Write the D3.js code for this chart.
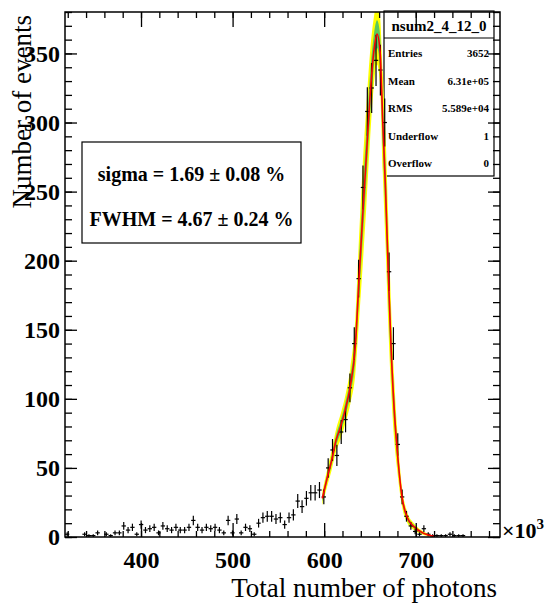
<!DOCTYPE html>
<html>
<head>
<meta charset="utf-8">
<script src="https://cdn.jsdelivr.net/npm/d3@7"></script>
<style>
  html, body { margin: 0; padding: 0; background: #fff; }
  svg { display: block; }
</style>
</head>
<body>
<svg id="chart" width="550" height="604"></svg>
<script>
// histogram: 100 bins over the x range (units of 10^3 photons)
const xRange = [317, 792];
const yRange = [0, 380];
const counts = [
  2, 0, 0, 0, 2, 1, 1, 3, 0, 2,
  1, 3, 3, 8, 5, 7, 2, 9, 5, 6,
  7, 3, 8, 6, 5, 7, 5, 5, 7, 12,
  7, 5, 7, 6, 7, 5, 3, 12, 3, 13,
  3, 7, 6, 2, 10, 14, 15, 15, 13, 14,
  9, 14, 16, 26, 22, 28, 32, 32, 34, 29,
  50, 63, 59, 76, 85, 108, 140, 187, 253, 308,
  325, 345, 338, 300, 192, 140, 67, 29, 15, 8,
  4, 2, 6, 2, 1, 1, 1, 1, 2, 1,
  1, 1, 0, 0, 0, 0, 0, 0, 0, 0
];

// fit curve and its confidence bands (half widths, in counts)
const fitX = [598, 603, 608, 613, 618, 623, 628.5, 634, 638, 642, 646, 650, 654, 657.7, 661, 664, 667, 670, 673, 676.5, 679.5, 685, 690.5, 698, 708.5, 721];
const fitY = [28, 42, 55, 70, 80, 92, 109, 138, 186, 232, 275, 318, 350, 364, 352, 300, 252, 192, 138, 92, 65, 29, 14.5, 7.5, 2.7, 0.3];
const bandYellow = [5, 6, 7, 8, 9, 10, 13, 20, 30, 36, 36, 32, 25, 22, 25, 36, 40, 38, 30, 22, 15, 7, 4, 2.5, 1.2, 0.4];
const bandGreen = [2.5, 3, 3.5, 4, 4.5, 5, 6.5, 10, 15, 18, 18, 16, 12, 10, 12, 18, 20, 19, 15, 11, 7.5, 3.5, 2, 1.2, 0.6, 0.2];

const xMajorTicks = [400, 500, 600, 700];
const xMinorTicks = d3.range(320, 792, 20);
const yMajorTicks = [0, 50, 100, 150, 200, 250, 300, 350];
const yMinorTicks = d3.range(0, 381, 10);

const statsTitle = "nsum2_4_12_0";
const statsRows = [["Entries", "3652"], ["Mean", "6.31e+05"], ["RMS", "5.589e+04"], ["Underflow", "1"], ["Overflow", "0"]];
const fitLines = ["sigma = 1.69 \u00b1 0.08 %", "FWHM = 4.67 \u00b1 0.24 %"];

const frame = { left: 65, right: 500, top: 12, bottom: 537 };
const serif = "'Liberation Serif', 'Times New Roman', serif";

const svg = d3.select("#chart");

const x = d3.scaleLinear().domain(xRange).range([frame.left, frame.right]);
const y = d3.scaleLinear().domain(yRange).range([frame.bottom, frame.top]);
const binW = (xRange[1] - xRange[0]) / counts.length;

svg.append("defs").append("clipPath").attr("id", "frameClip")
  .append("rect")
  .attr("x", frame.left).attr("y", frame.top)
  .attr("width", frame.right - frame.left).attr("height", frame.bottom - frame.top);

// stats box (drawn first, data and axes go over it)
const stats = svg.append("g");
stats.append("rect")
  .attr("x", 384).attr("y", 11).attr("width", 110).attr("height", 165)
  .attr("fill", "#fff").attr("stroke", "#000").attr("stroke-width", 1.2);
stats.append("line")
  .attr("x1", 384).attr("x2", 494).attr("y1", 38).attr("y2", 38)
  .attr("stroke", "#000").attr("stroke-width", 1.2);
stats.append("text")
  .attr("x", 439).attr("y", 31).attr("text-anchor", "middle")
  .attr("font-family", serif).attr("font-weight", "bold").attr("font-size", 15)
  .text(statsTitle);
statsRows.forEach((r, i) => {
  const by = 57 + i * 27.5;
  stats.append("text").attr("x", 388).attr("y", by)
    .attr("font-family", serif).attr("font-weight", "bold").attr("font-size", 11)
    .text(r[0]);
  stats.append("text").attr("x", 489).attr("y", by).attr("text-anchor", "end")
    .attr("font-family", serif).attr("font-weight", "bold").attr("font-size", 11)
    .text(r[1]);
});

// fit bands + fit line
const plot = svg.append("g").attr("clip-path", "url(#frameClip)");
const fitPts = fitX.map((v, i) => ({ x: v, y: fitY[i], yl: bandYellow[i], gr: bandGreen[i] }));

const bandArea = (key) => d3.area()
  .x(d => x(d.x))
  .y0(d => y(Math.max(0, d.y - d[key])))
  .y1(d => y(d.y + d[key]))
  .curve(d3.curveMonotoneX);

plot.append("path").datum(fitPts).attr("d", bandArea("yl")).attr("fill", "#ffff00");
plot.append("path").datum(fitPts).attr("d", bandArea("gr")).attr("fill", "#5cc85c");

// data points with error bars
const bins = counts.map((c, i) => ({ lo: xRange[0] + i * binW, hi: xRange[0] + (i + 1) * binW, c: c }))
  .filter(d => d.c > 0);
const pts = plot.append("g").attr("stroke", "#000").attr("stroke-width", 1.2);
pts.selectAll("line.h").data(bins).join("line").attr("class", "h")
  .attr("x1", d => x(d.lo)).attr("x2", d => x(d.hi))
  .attr("y1", d => y(d.c)).attr("y2", d => y(d.c));
pts.selectAll("line.v").data(bins).join("line").attr("class", "v")
  .attr("x1", d => x((d.lo + d.hi) / 2)).attr("x2", d => x((d.lo + d.hi) / 2))
  .attr("y1", d => y(Math.max(0, d.c - Math.sqrt(d.c)))).attr("y2", d => y(d.c + Math.sqrt(d.c)));

plot.append("path").datum(fitPts)
  .attr("d", d3.line().x(d => x(d.x)).y(d => y(d.y)).curve(d3.curveMonotoneX))
  .attr("fill", "none").attr("stroke", "#ff0000").attr("stroke-width", 1.6);

// axes, ROOT style: ticks pointing inward on all four sides
function styleAxis(g) {
  g.select(".domain").remove();
  g.selectAll(".tick line").attr("stroke", "#000").attr("stroke-width", 1.3);
}

svg.append("g").attr("transform", `translate(0,${frame.bottom})`)
  .call(d3.axisBottom(x).tickValues(xMinorTicks).tickSizeInner(-6).tickSizeOuter(0).tickFormat(""))
  .call(styleAxis);
svg.append("g").attr("transform", `translate(0,${frame.bottom})`)
  .call(d3.axisBottom(x).tickValues(xMajorTicks).tickSizeInner(-14).tickSizeOuter(0).tickPadding(14))
  .call(styleAxis)
  .call(g => g.selectAll("text").attr("font-family", serif).attr("font-weight", "bold")
    .attr("font-size", 24).attr("fill", "#000"));

svg.append("g").attr("transform", `translate(0,${frame.top})`)
  .call(d3.axisTop(x).tickValues(xMinorTicks).tickSizeInner(-6).tickSizeOuter(0).tickFormat(""))
  .call(styleAxis);
svg.append("g").attr("transform", `translate(0,${frame.top})`)
  .call(d3.axisTop(x).tickValues(xMajorTicks).tickSizeInner(-15).tickSizeOuter(0).tickFormat(""))
  .call(styleAxis);

svg.append("g").attr("transform", `translate(${frame.left},0)`)
  .call(d3.axisLeft(y).tickValues(yMinorTicks).tickSizeInner(-7).tickSizeOuter(0).tickFormat(""))
  .call(styleAxis);
svg.append("g").attr("transform", `translate(${frame.left},0)`)
  .call(d3.axisLeft(y).tickValues(yMajorTicks).tickSizeInner(-12).tickSizeOuter(0).tickPadding(5))
  .call(styleAxis)
  .call(g => g.selectAll("text").attr("font-family", serif).attr("font-weight", "bold")
    .attr("font-size", 24).attr("fill", "#000"));

svg.append("g").attr("transform", `translate(${frame.right},0)`)
  .call(d3.axisRight(y).tickValues(yMinorTicks).tickSizeInner(-7).tickSizeOuter(0).tickFormat(""))
  .call(styleAxis);
svg.append("g").attr("transform", `translate(${frame.right},0)`)
  .call(d3.axisRight(y).tickValues(yMajorTicks).tickSizeInner(-12).tickSizeOuter(0).tickFormat(""))
  .call(styleAxis);

svg.append("rect")
  .attr("x", frame.left).attr("y", frame.top)
  .attr("width", frame.right - frame.left).attr("height", frame.bottom - frame.top)
  .attr("fill", "none").attr("stroke", "#000").attr("stroke-width", 1.5);

// axis titles
svg.append("text")
  .attr("x", 497).attr("y", 597).attr("text-anchor", "end")
  .attr("font-family", serif).attr("font-size", 27)
  .text("Total number of photons");
svg.append("text")
  .attr("transform", "translate(31,15) rotate(-90)").attr("text-anchor", "end")
  .attr("font-family", serif).attr("font-size", 27)
  .text("Number of events");

const expo = svg.append("text")
  .attr("x", 502).attr("y", 538)
  .attr("font-family", serif).attr("font-weight", "bold").attr("font-size", 22);
expo.append("tspan").text("\u00d710");
expo.append("tspan").attr("dy", -9).attr("font-size", 15).text("3");

// fit result box
const fitBox = svg.append("g");
fitBox.append("rect")
  .attr("x", 82).attr("y", 142).attr("width", 219).attr("height", 101)
  .attr("fill", "#fff").attr("stroke", "#000").attr("stroke-width", 1.2);
fitLines.forEach((t, i) => {
  fitBox.append("text")
    .attr("x", 191.5).attr("y", 181 + i * 45).attr("text-anchor", "middle")
    .attr("font-family", serif).attr("font-weight", "bold").attr("font-size", 20)
    .text(t);
});
</script>
</body>
</html>
